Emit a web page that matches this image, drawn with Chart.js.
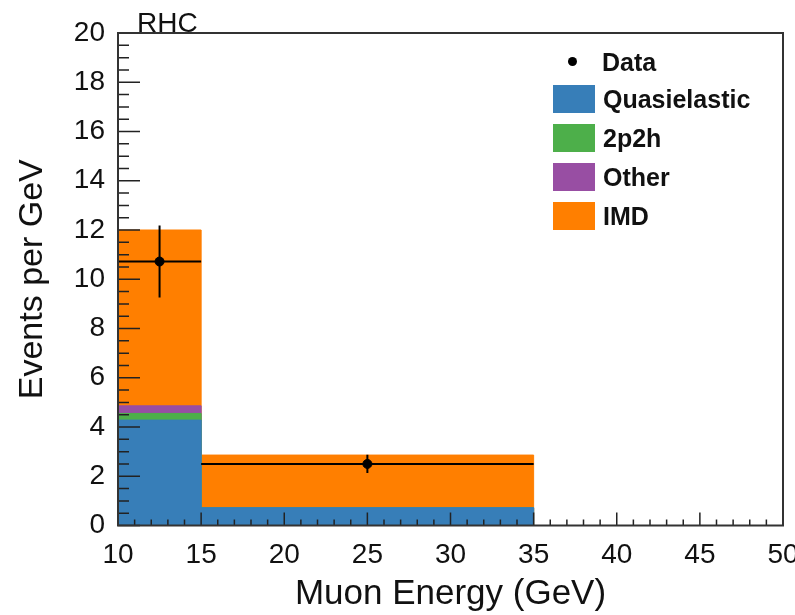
<!DOCTYPE html>
<html>
<head>
<meta charset="utf-8">
<title>Muon Energy RHC</title>
<script src="https://cdn.jsdelivr.net/npm/chart.js@4.4.1/dist/chart.umd.min.js"></script>
<style>
	body { margin: 0; background: #fff; overflow: hidden; }
	#wrap { position: relative; width: 795px; height: 615px; font-family: 'Liberation Sans', Arial, Helvetica, sans-serif; color: #111; }
	#wrap canvas { position: absolute; left: 0; top: 0; }
	.tag { position: absolute; left: 137px; top: 9px; font-size: 28px; line-height: 28px; }
	.row { position: absolute; left: 553px; height: 28px; display: flex; align-items: center; font-weight: bold; font-size: 25px; line-height: 28px; }
	.sw { width: 42px; height: 28px; margin-right: 8px; }
	.dot { width: 42px; height: 28px; margin-right: 7px; position: relative; }
	.dot::after { content: ''; position: absolute; left: 15px; top: 9px; width: 9px; height: 9px; border-radius: 50%; background: #000; }
</style>
</head>
<body>
<div id="wrap">
	<canvas id="chart" width="795" height="615"></canvas>
	<div class="tag">RHC</div>
	<div id="legend"></div>
</div>
<script>
// bin edges in GeV, last bin is empty
const binEdges = [10, 15, 35, 50];

// events per GeV for each stacked component
const quasielastic = [4.28, 0.72, 0];
const twoP2h = [0.27, 0, 0];
const other = [0.31, 0, 0];
const imd = [7.14, 2.14, 0];

// data points with vertical errors
const dataX = [12.5, 25];
const dataY = [10.72, 2.5];
const dataErr = [1.46, 0.37];

// tick labels
const xTickValues = [10, 15, 20, 25, 30, 35, 40, 45, 50];
const yTickValues = [0, 2, 4, 6, 8, 10, 12, 14, 16, 18, 20];

const layers = [
	{ label: 'Quasielastic', vals: quasielastic, color: '#377eb8' },
	{ label: '2p2h', vals: twoP2h, color: '#4daf4a' },
	{ label: 'Other', vals: other, color: '#984ea3' },
	{ label: 'IMD', vals: imd, color: '#ff7f00' },
];

// step outline of a histogram: each lower edge with its bin value, then the last edge
// ('before' in chart.js keeps the previous y until the next x)
function stepPoints(vals) {
	const pts = vals.map((v, i) => ({ x: binEdges[i], y: v }));
	pts.push({ x: binEdges[binEdges.length - 1], y: vals[vals.length - 1] });
	return pts;
}

// stack by hand so every layer fills down to zero, drawn from top layer down
let running = quasielastic.map(() => 0);
const histSets = layers.map((l, k) => {
	running = running.map((r, i) => r + l.vals[i]);
	return {
		type: 'line',
		label: l.label,
		data: stepPoints(running),
		stepped: 'before',
		fill: 'origin',
		backgroundColor: l.color,
		borderColor: l.color,
		borderWidth: 1,
		pointRadius: 0,
		order: 10 + k,
	};
});

// error bars: horizontal bar over the bin, vertical bar for the error
const errPts = [];
dataX.forEach((x, i) => {
	errPts.push({ x: binEdges[i], y: dataY[i] }, { x: binEdges[i + 1], y: dataY[i] }, { x: x, y: null });
	errPts.push({ x: x, y: dataY[i] - dataErr[i] }, { x: x, y: dataY[i] + dataErr[i] }, { x: x, y: null });
});

// root style frame with inward ticks
const rootFrame = {
	id: 'rootFrame',
	afterDatasetsDraw(chart) {
		const { ctx, chartArea: a, scales: { x, y } } = chart;
		ctx.save();
		ctx.strokeStyle = '#222';
		ctx.lineWidth = 1.5;
		ctx.beginPath();
		for (let v = x.min; v <= x.max; v++) {
			const px = x.getPixelForValue(v);
			const len = v % 5 === 0 ? 13 : 6;
			ctx.moveTo(px, a.bottom);
			ctx.lineTo(px, a.bottom - len);
		}
		for (let k = 0; k <= 40; k++) {
			const py = y.getPixelForValue(k * 0.5);
			const len = k % 4 === 0 ? 22 : 11;
			ctx.moveTo(a.left, py);
			ctx.lineTo(a.left + len, py);
		}
		ctx.stroke();
		ctx.strokeStyle = '#333';
		ctx.lineWidth = 2;
		ctx.strokeRect(a.left, a.top, a.right - a.left, a.bottom - a.top);
		ctx.restore();
	},
};

const font = "'Liberation Sans', Arial, Helvetica, sans-serif";

new Chart(document.getElementById('chart'), {
	type: 'line',
	data: {
		datasets: [
			...histSets,
			{
				label: 'err',
				data: errPts,
				borderColor: '#000',
				borderWidth: 2,
				pointRadius: 0,
				fill: false,
				spanGaps: false,
				order: 1,
			},
			{
				label: 'Data',
				data: dataX.map((x, i) => ({ x: x, y: dataY[i] })),
				showLine: false,
				pointRadius: 4.5,
				pointBackgroundColor: '#000',
				pointBorderColor: '#000',
				order: 0,
			},
		],
	},
	options: {
		responsive: false,
		animation: false,
		layout: { padding: { top: 33, right: 12, left: 0, bottom: 0 } },
		plugins: {
			legend: { display: false },
			tooltip: { enabled: false },
		},
		scales: {
			x: {
				type: 'linear',
				min: 10,
				max: 50,
				afterBuildTicks: (s) => { s.ticks = xTickValues.map((v) => ({ value: v })); },
				afterFit: (s) => { s.height = 89.5; s.paddingLeft = 0; s.paddingRight = 0; },
				grid: { display: false },
				border: { display: false },
				ticks: { font: { family: font, size: 28 }, color: '#111', padding: 5, maxRotation: 0, autoSkip: false },
				title: { display: true, text: 'Muon Energy (GeV)', font: { family: font, size: 35 }, color: '#111', padding: { top: 0, bottom: 0 } },
			},
			y: {
				min: 0,
				max: 20,
				afterBuildTicks: (s) => { s.ticks = yTickValues.map((v) => ({ value: v })); },
				afterFit: (s) => { s.width = 118; s.paddingTop = 0; s.paddingBottom = 0; },
				grid: { display: false },
				border: { display: false },
				ticks: { font: { family: font, size: 28 }, color: '#111', padding: 5 },
				title: { display: true, text: 'Events per GeV', font: { family: font, size: 34 }, color: '#111', padding: { top: 12, bottom: 0 } },
			},
		},
	},
	plugins: [rootFrame],
});

// legend drawn as html next to the top right corner
const legend = document.getElementById('legend');
const rows = [{ label: 'Data', color: null }, ...layers.map((l) => ({ label: l.label, color: l.color }))];
const rowTops = [48, 85, 124, 163, 202];
rows.forEach((r, i) => {
	const div = document.createElement('div');
	div.className = 'row';
	div.style.top = rowTops[i] + 'px';
	const mark = document.createElement('div');
	if (r.color) {
		mark.className = 'sw';
		mark.style.background = r.color;
	}
	else {
		mark.className = 'dot';
	}
	div.appendChild(mark);
	div.appendChild(document.createTextNode(r.label));
	legend.appendChild(div);
});
</script>
</body>
</html>
